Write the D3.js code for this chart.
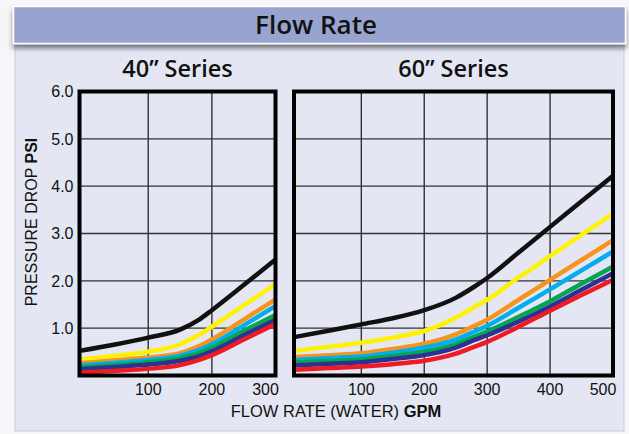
<!DOCTYPE html>
<html>
<head>
<meta charset="utf-8">
<script src="https://cdn.jsdelivr.net/npm/d3@7"></script>
<style>
  body { margin: 0; background: #f6f6f8; }
  svg { display: block; }
</style>
</head>
<body>
<div id="chart"></div>
<script>
// series order, top curve to bottom curve
var seriesKeys = ["black", "yellow", "orange", "cyan", "green", "navy", "red"];
var seriesColors = ["#111111", "#fff200", "#f7941d", "#00aeef", "#00a651", "#2e3192", "#ed1c24"];

// 40" series : flow (GPM) and pressure drop (PSI), one row per series
var gpm40 = [-8, 50, 100, 150, 180, 200, 250, 300];
var psi40 = [
  [0.52, 0.66, 0.80, 0.97, 1.18, 1.38, 1.91, 2.45],
  [0.34, 0.42, 0.50, 0.66, 0.86, 1.03, 1.48, 1.93],
  [0.26, 0.32, 0.38, 0.47, 0.62, 0.76, 1.18, 1.61],
  [0.21, 0.27, 0.33, 0.42, 0.54, 0.66, 1.06, 1.47],
  [0.17, 0.22, 0.28, 0.37, 0.48, 0.59, 0.94, 1.28],
  [0.13, 0.18, 0.23, 0.31, 0.41, 0.51, 0.85, 1.18],
  [0.06, 0.10, 0.14, 0.22, 0.33, 0.43, 0.76, 1.09]
];

// 60" series
var gpm60 = [-7, 50, 100, 150, 200, 250, 280, 300, 350, 400, 450, 500];
var psi60 = [
  [0.81, 0.95, 1.08, 1.21, 1.38, 1.64, 1.88, 2.06, 2.60, 3.14, 3.68, 4.22],
  [0.52, 0.61, 0.69, 0.80, 0.94, 1.22, 1.45, 1.60, 2.07, 2.52, 2.97, 3.42],
  [0.39, 0.43, 0.47, 0.56, 0.67, 0.87, 1.05, 1.18, 1.60, 2.02, 2.44, 2.86],
  [0.33, 0.37, 0.40, 0.48, 0.59, 0.76, 0.93, 1.05, 1.43, 1.82, 2.22, 2.62],
  [0.28, 0.31, 0.34, 0.41, 0.50, 0.66, 0.82, 0.93, 1.24, 1.57, 1.94, 2.30],
  [0.21, 0.25, 0.28, 0.35, 0.43, 0.59, 0.75, 0.85, 1.14, 1.46, 1.81, 2.16],
  [0.12, 0.16, 0.19, 0.24, 0.31, 0.46, 0.61, 0.71, 1.03, 1.37, 1.70, 2.02]
];

var yTicks = [1, 2, 3, 4, 5, 6];
var xTicks40 = [100, 200, 300];
var xTicks60 = [100, 200, 300, 400, 500];

var W = 629, H = 434;
var plotTop = 91.5, plotBottom = 375.5;

var svg = d3.select("#chart").append("svg")
  .attr("width", W)
  .attr("height", H);

var defs = svg.append("defs");
var shadow = defs.append("filter")
  .attr("id", "barShadow")
  .attr("x", "-5%").attr("y", "-20%")
  .attr("width", "110%").attr("height", "160%");
shadow.append("feDropShadow")
  .attr("dx", 0).attr("dy", 4)
  .attr("stdDeviation", 2.5)
  .attr("flood-color", "#000")
  .attr("flood-opacity", 0.5);

// panel
svg.append("rect")
  .attr("x", 15).attr("y", 40)
  .attr("width", 609).attr("height", 391)
  .attr("fill", "#e4e6f4")
  .style("stroke", "#c9cad4")
  .style("stroke-width", 1);

// header bar
svg.append("rect")
  .attr("x", 13.5).attr("y", 6.5)
  .attr("width", 612).attr("height", 37)
  .attr("fill", "#98a4cf")
  .style("stroke", "#ffffff")
  .style("stroke-width", 1.5)
  .attr("filter", "url(#barShadow)");

svg.append("text")
  .attr("x", 316).attr("y", 34)
  .attr("text-anchor", "middle")
  .style("font-family", "'Open Sans', sans-serif")
  .style("font-weight", 600)
  .style("font-size", "26px")
  .style("fill", "#111")
  .text("Flow Rate");

var y = d3.scaleLinear().domain([0, 6]).range([plotBottom, plotTop]);

function drawPanel(x0, x1, gpm, psi, xTicks, title, showY) {
  var x = d3.scaleLinear().domain([gpm[0], xTicks[xTicks.length - 1]]).range([x0, x1]);
  var g = svg.append("g");

  g.append("text")
    .attr("x", (x0 + x1) / 2).attr("y", 77)
    .attr("text-anchor", "middle")
    .style("font-family", "'Open Sans', sans-serif")
    .style("font-weight", 600)
    .style("font-size", "23.5px")
    .style("fill", "#111")
    .text(title);

  // grid
  g.selectAll("line.hgrid").data(yTicks.slice(0, -1)).enter().append("line")
    .attr("class", "hgrid")
    .attr("x1", x0).attr("x2", x1)
    .attr("y1", function(d) { return y(d); })
    .attr("y2", function(d) { return y(d); })
    .style("stroke", "#333")
    .style("stroke-width", 1.4);

  g.selectAll("line.vgrid").data(xTicks.slice(0, -1)).enter().append("line")
    .attr("class", "vgrid")
    .attr("y1", plotTop).attr("y2", plotBottom)
    .attr("x1", function(d) { return x(d); })
    .attr("x2", function(d) { return x(d); })
    .style("stroke", "#333")
    .style("stroke-width", 1.4);

  var line = d3.line()
    .x(function(d, i) { return x(gpm[i]); })
    .y(function(d) { return y(d); })
    .curve(d3.curveMonotoneX);

  g.selectAll("path.curve").data(psi).enter().append("path")
    .attr("class", "curve")
    .attr("d", line)
    .attr("fill", "none")
    .style("stroke", function(d, i) { return seriesColors[i]; })
    .style("stroke-width", 4.5)
    .style("stroke-linejoin", "round");

  // frame
  g.append("rect")
    .attr("x", x0).attr("y", plotTop)
    .attr("width", x1 - x0).attr("height", plotBottom - plotTop)
    .attr("fill", "none")
    .style("stroke", "#000")
    .style("stroke-width", 4);

  // x tick labels
  g.selectAll("text.xt").data(xTicks).enter().append("text")
    .attr("class", "xt")
    .attr("x", function(d, i) { return x(d) + (i === xTicks.length - 1 ? -10 : 0); })
    .attr("y", 395)
    .attr("text-anchor", "middle")
    .style("font-family", "'Liberation Sans', Arial, sans-serif")
    .style("font-size", "16px")
    .style("fill", "#111")
    .text(function(d) { return d; });

  if (showY) {
    g.selectAll("text.yt").data(yTicks).enter().append("text")
      .attr("class", "yt")
      .attr("x", x0 - 6)
      .attr("y", function(d) { return y(d); })
      .attr("dy", "0.36em")
      .attr("text-anchor", "end")
      .style("font-family", "'Liberation Sans', Arial, sans-serif")
      .style("font-size", "16px")
      .style("fill", "#111")
      .text(function(d) { return d3.format(".1f")(d); });
  }
}

drawPanel(79.5, 275.5, gpm40, psi40, xTicks40, "40\u201D Series", true);
drawPanel(294, 613, gpm60, psi60, xTicks60, "60\u201D Series", false);

// axis titles
var yTitle = svg.append("text")
  .attr("transform", "translate(36.5,222) rotate(-90)")
  .attr("text-anchor", "middle")
  .style("font-family", "'Liberation Sans', Arial, sans-serif")
  .style("font-size", "16px")
  .style("fill", "#111");
yTitle.append("tspan").text("PRESSURE DROP ");
yTitle.append("tspan").style("font-weight", "bold").text("PSI");

var xTitle = svg.append("text")
  .attr("x", 336).attr("y", 417)
  .attr("text-anchor", "middle")
  .style("font-family", "'Liberation Sans', Arial, sans-serif")
  .style("font-size", "16.5px")
  .style("fill", "#111");
xTitle.append("tspan").text("FLOW RATE (WATER) ");
xTitle.append("tspan").style("font-weight", "bold").text("GPM");
</script>
</body>
</html>
